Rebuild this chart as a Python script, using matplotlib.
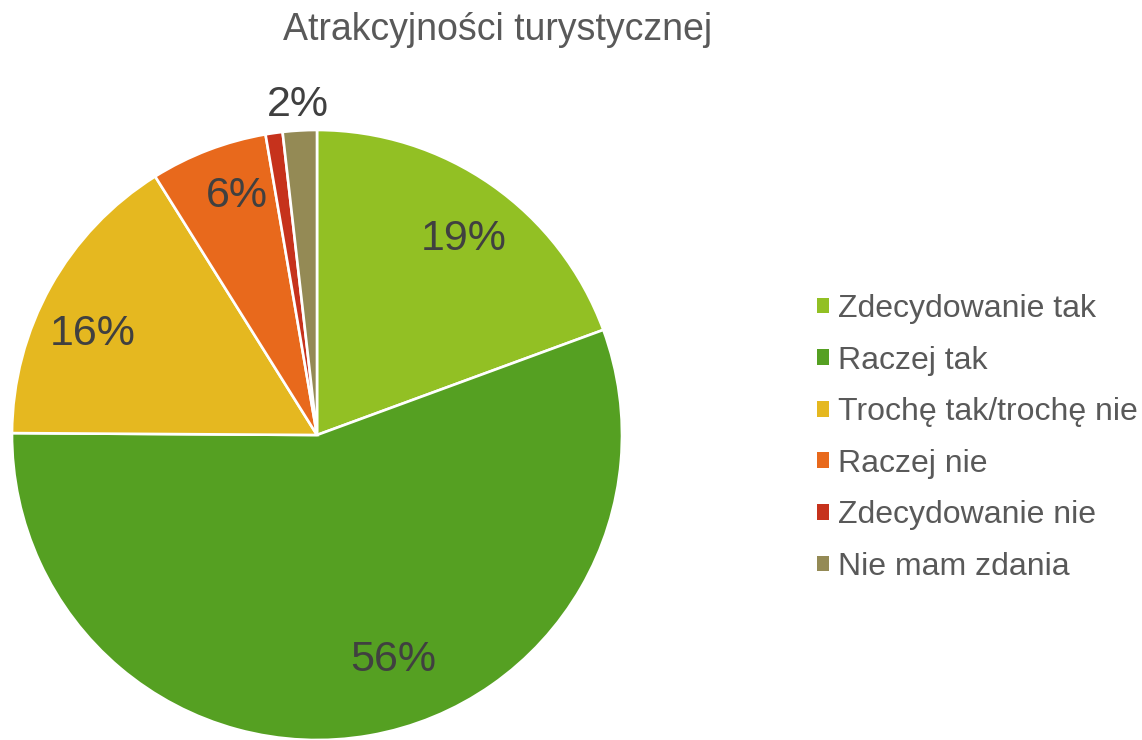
import numpy as np
import matplotlib.pyplot as plt
from matplotlib.patches import Patch

plt.rcParams['font.family'] = ['Liberation Sans', 'DejaVu Sans']

# data
categories = ["Zdecydowanie tak", "Raczej tak", "Trochę tak/trochę nie",
              "Raczej nie", "Zdecydowanie nie", "Nie mam zdania"]
values = [19.4, 55.7, 16.0, 6.2, 0.9, 1.8]
colors = ["#92C024", "#55A022", "#E5B820", "#E8691C", "#C6321C", "#948A55"]
title = "Atrakcyjności turystycznej"

# label radius (fraction of R) and angle shift (deg) per slice, None = hidden
label_r = [0.81, 0.77, 0.81, 0.835, None, 1.095]
label_shift = [-1.4, 9.0, 4.3, -2.6, 0, 0]

W, H = 1142, 740
fig = plt.figure(figsize=(W / 100, H / 100), dpi=100)

R = 305.0
cx, cy = 317.0, 740 - 435.0
ext = 1.2
ax = fig.add_axes([(cx - ext * R) / W, (cy - ext * R) / H,
                   2 * ext * R / W, 2 * ext * R / H])
wedges, _ = ax.pie(values, colors=colors, startangle=90, counterclock=False,
                   radius=1.0, wedgeprops=dict(edgecolor="white", linewidth=1.9))
ax.set_xlim(-ext, ext)
ax.set_ylim(-ext, ext)
ax.axis("off")
for w in wedges:
    w.set_clip_on(False)

for w, v, r, s in zip(wedges, values, label_r, label_shift):
    if r is None:
        continue
    th = np.deg2rad((w.theta1 + w.theta2) / 2 + s)
    ax.text(r * np.cos(th), r * np.sin(th) - 0.01, f"{round(v):.0f}%",
            ha="center", va="center", fontsize=31, color="#404040")

fig.text(498 / W, 1 - 30 / H, title, ha="center", va="center",
         fontsize=27, color="#595959")

handles = [Patch(facecolor=c, edgecolor="none") for c in colors]
fig.legend(handles, categories, loc="upper left",
           bbox_to_anchor=(817 / W, 1 - 294 / H), frameon=False,
           fontsize=23, labelcolor="#595959", handlelength=0.38,
           handleheight=0.38, handletextpad=0.28, labelspacing=0.675,
           borderaxespad=0, borderpad=0)

fig.savefig("out.png", dpi=100)
